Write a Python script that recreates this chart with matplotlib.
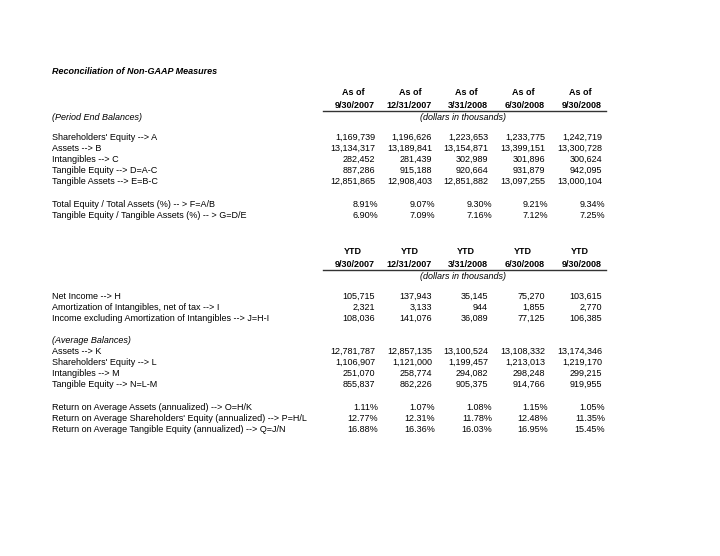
import matplotlib
matplotlib.use("Agg")
import matplotlib.pyplot as plt

# ---------------- data ----------------
title = "Reconciliation of Non-GAAP Measures"

pe_header1 = ["As of", "As of", "As of", "As of", "As of"]
pe_dates = ["9/30/2007", "12/31/2007", "3/31/2008", "6/30/2008", "9/30/2008"]
ytd_header1 = ["YTD", "YTD", "YTD", "YTD", "YTD"]
ytd_dates = ["9/30/2007", "12/31/2007", "3/31/2008", "6/30/2008", "9/30/2008"]
units_label = "(dollars in thousands)"

pe_section = "(Period End Balances)"
pe_labels = ["Shareholders' Equity --> A", "Assets --> B", "Intangibles --> C",
             "Tangible Equity --> D=A-C", "Tangible Assets --> E=B-C"]
shareholders_equity = [1169739, 1196626, 1223653, 1233775, 1242719]
assets = [13134317, 13189841, 13154871, 13399151, 13300728]
intangibles = [282452, 281439, 302989, 301896, 300624]
tangible_equity = [887286, 915188, 920664, 931879, 942095]
tangible_assets = [12851865, 12908403, 12851882, 13097255, 13000104]

ratio_labels = ["Total Equity / Total Assets (%) -- > F=A/B",
                "Tangible Equity / Tangible Assets (%) -- > G=D/E"]
equity_to_assets = [8.91, 9.07, 9.30, 9.21, 9.34]
tangible_ratio = [6.90, 7.09, 7.16, 7.12, 7.25]

income_labels = ["Net Income --> H", "Amortization of Intangibles, net of tax --> I",
                 "Income excluding Amortization of Intangibles --> J=H-I"]
net_income = [105715, 137943, 35145, 75270, 103615]
amortization = [2321, 3133, 944, 1855, 2770]
income_excl = [108036, 141076, 36089, 77125, 106385]

avg_section = "(Average Balances)"
avg_labels = ["Assets --> K", "Shareholders' Equity --> L", "Intangibles --> M",
              "Tangible Equity --> N=L-M"]
avg_assets = [12781787, 12857135, 13100524, 13108332, 13174346]
avg_equity = [1106907, 1121000, 1199457, 1213013, 1219170]
avg_intangibles = [251070, 258774, 294082, 298248, 299215]
avg_tangible_equity = [855837, 862226, 905375, 914766, 919955]

return_labels = ["Return on Average Assets (annualized) --> O=H/K",
                 "Return on Average Shareholders' Equity (annualized) --> P=H/L",
                 "Return on Average Tangible Equity (annualized) --> Q=J/N"]
roaa = [1.11, 1.07, 1.08, 1.15, 1.05]
roae = [12.77, 12.31, 11.78, 12.48, 11.35]
roate = [16.88, 16.36, 16.03, 16.95, 15.45]

# ---------------- layout ----------------
plt.rcParams['font.family'] = ['Liberation Sans', 'DejaVu Sans']
FS = 6.5
fig = plt.figure(figsize=(7.2, 5.56), dpi=100)
ax = fig.add_axes([0, 0, 1, 1])
ax.set_xlim(0, 720)
ax.set_ylim(556, 0)
ax.axis('off')

LBL_X = 52
TITLE_X = 52
COL_R = [375, 432, 488, 545, 602]
PCT_R = [378, 435, 492, 548, 605]
ROW = 11.0
BASE = 3.3  # offset from visual centre to baseline


def txt(x, y, s, ha='left', **kw):
    ax.text(x, y + BASE, s, ha=ha, va='baseline', fontsize=FS, color='black', **kw)


def num_row(y, vals):
    for x, v in zip(COL_R, vals):
        txt(x, y, f"{v:,}", ha='right')


def pct_row(y, vals):
    for x, v in zip(PCT_R, vals):
        txt(x, y, f"{v:.2f}%", ha='right')


def header(y1, h1, dates):
    for x, a, d in zip(COL_R, h1, dates):
        txt(x - 22, y1, a, ha='center', fontweight='bold')
        txt(x, y1 + 12.5, d, ha='right', fontweight='bold')
    ax.plot([323, 606], [y1 + 18.5, y1 + 18.5], color='#333333', lw=1.0)
    txt(463, y1 + 25, units_label, ha='center', style='italic')


# title
txt(TITLE_X, 71, title, fontweight='bold', style='italic')

# section 1
header(92, pe_header1, pe_dates)
txt(LBL_X, 117, pe_section, style='italic')
y0 = 137
for i, (lab, vals) in enumerate(zip(pe_labels, [shareholders_equity, assets, intangibles,
                                                 tangible_equity, tangible_assets])):
    txt(LBL_X, y0 + i * ROW, lab)
    num_row(y0 + i * ROW, vals)
y0 = 204
for i, (lab, vals) in enumerate(zip(ratio_labels, [equity_to_assets, tangible_ratio])):
    txt(LBL_X, y0 + i * ROW, lab)
    pct_row(y0 + i * ROW, vals)

# section 2
header(251, ytd_header1, ytd_dates)
y0 = 296
for i, (lab, vals) in enumerate(zip(income_labels, [net_income, amortization, income_excl])):
    txt(LBL_X, y0 + i * ROW, lab)
    num_row(y0 + i * ROW, vals)
txt(LBL_X, 340, avg_section, style='italic')
y0 = 351
for i, (lab, vals) in enumerate(zip(avg_labels, [avg_assets, avg_equity, avg_intangibles,
                                                  avg_tangible_equity])):
    txt(LBL_X, y0 + i * ROW, lab)
    num_row(y0 + i * ROW, vals)
y0 = 407
for i, (lab, vals) in enumerate(zip(return_labels, [roaa, roae, roate])):
    txt(LBL_X, y0 + i * ROW, lab)
    pct_row(y0 + i * ROW, vals)

fig.savefig("out.png", dpi=100)
